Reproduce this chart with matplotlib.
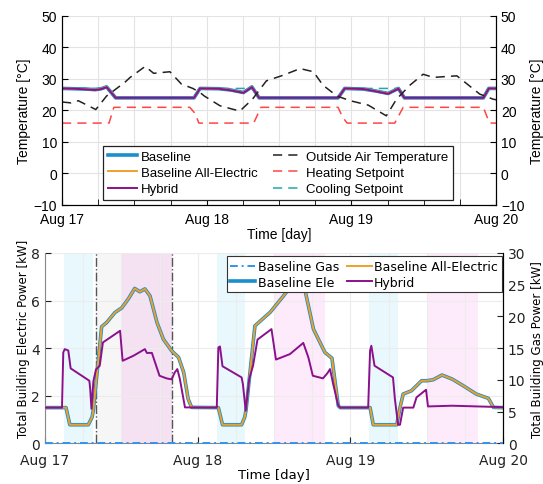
import matplotlib
matplotlib.use("Agg")
import matplotlib.pyplot as plt
import numpy as np

# ---- data (hours from Aug 17 00:00) ----
day_ticks = [0, 24, 48, 72]
day_labels = ['Aug 17', 'Aug 18', 'Aug 19', 'Aug 20']

zone_h = [0, 2, 4, 5.5, 6.5, 7.4, 8.9, 21.9, 22.9, 26, 28, 30.1, 31.5, 32.7,
          45.8, 46.9, 50, 52, 54.1, 55.8, 56.8, 69.9, 70.8, 72]
baseline_temp = [27, 26.9, 26.8, 26.6, 26.9, 27.5, 24, 24, 27, 26.9, 26.5, 25.7, 27.5, 24,
                 24, 27, 26.8, 26.2, 25.4, 27.0, 24, 24, 27, 27]
all_electric_temp = baseline_temp
hybrid_temp = [27, 26.9, 26.7, 26.5, 26.8, 27.4, 24, 24, 27, 26.9, 26.4, 25.6, 27.4, 24,
               24, 27, 26.8, 26.1, 25.3, 26.9, 24, 24, 27, 27]

oat_h = [0, 1.5, 2.7, 5.6, 7.4, 10.4, 11.3, 13.8, 15.2, 17.9, 19.8, 21.7, 22.9, 23.6, 26.2,
         29.5, 31.6, 33.9, 36.7, 39.5, 41.7, 43.3, 45.6, 47.8, 50.8, 53.8, 55.5, 57.7,
         59.9, 61.6, 65.5, 69.3, 71.5, 72]
oat_temp = [22.7, 22.4, 23.1, 20.3, 24.6, 28.9, 30.5, 34.0, 31.8, 32.3, 28.4, 27.0, 25.7, 24.6, 21.5,
            19.8, 23.6, 29.4, 31.2, 33.3, 32.3, 28.0, 24.6, 23.1, 21.7, 18.3, 23.6, 28.0,
            31.5, 30.5, 31.0, 25.2, 23.6, 23.4]

heat_h = [0, 7.8, 8.6, 21.2, 22.1, 22.7, 31.8, 33.0, 45.8, 46.5, 47.3, 55.2, 56.6, 69.9, 70.5, 71.0, 72]
heat_sp = [16, 16, 21, 21, 19, 16, 16, 21, 21, 18, 16, 16, 21, 21, 18, 16, 16]

cool_h = [0, 7.4, 8.8, 21.9, 22.8, 31.5, 32.8, 45.8, 46.8, 55.8, 56.7, 69.9, 70.7, 72]
cool_sp = [27, 27, 24, 24, 27, 27, 24, 24, 27, 27, 24, 24, 27, 27]

ae_h = [0, 3.3, 3.9, 6.8, 7.4, 7.6, 8.9, 9.7, 11.0, 12.05, 13.1, 14.1, 14.9, 15.7, 16.5, 17.6,
        18.6, 19.9, 21.0, 21.8, 22.5, 23.05,
        27.25, 27.9, 30.9, 31.4, 31.6, 33.0, 35.4, 37.5, 38.5, 39.3, 40.2, 40.9, 42.2, 44.0, 45.1,
        46.1, 46.4,
        51.1, 51.6, 55.3, 55.8, 56.3, 57.6, 59.2, 60.0, 61.0, 62.4, 64.0, 65.75, 67.8, 69.7, 70.5, 72]
all_electric_kw = [1.5, 1.5, 0.78, 0.78, 1.1, 1.4, 4.9, 5.08, 5.5, 5.69, 6.07, 6.51, 6.37, 6.49, 6.2, 5.08,
                   4.38, 3.89, 3.61, 2.98, 1.86, 1.51,
                   1.5, 0.78, 0.78, 1.1, 1.4, 4.94, 5.51, 6.2, 6.55, 6.85, 6.85, 6.4, 4.8, 3.82, 3.58,
                   1.58, 1.5,
                   1.5, 0.78, 0.78, 1.5, 2.07, 2.21, 2.63, 2.63, 2.67, 2.87, 2.7, 2.42, 2.07, 1.89, 1.51, 1.5]
baseline_ele_kw = all_electric_kw

hyb_h = [0, 2.67, 2.87, 3.1, 3.66, 4.03, 6.97, 7.1, 7.3, 7.6, 8.0, 8.6, 9.1, 11.8, 12.2, 13.9,
         15.7, 16.0, 16.8, 18.0, 19.1, 19.9, 20.4, 20.8, 21.2, 22.0,
         27.0, 27.25, 27.5, 27.9, 30.9, 31.1, 31.55, 32.1, 32.7, 33.4, 35.6, 36.3, 38.5, 40.6,
         41.4, 42.1, 43.7, 44.4, 44.8, 45.3, 46.1, 46.4,
         50.8, 51.1, 51.3, 51.8, 54.7, 55.0, 55.5, 55.8, 56.3, 57.9, 58.4, 59.7, 59.9, 60.2,
         64.0, 72]
hybrid_kw = [1.5, 1.5, 3.82, 3.96, 3.9, 3.15, 2.63, 2.3, 1.45, 2.6, 3.1, 3.26, 4.24, 4.73, 3.47, 3.68,
             3.96, 3.8, 3.8, 2.84, 2.73, 2.69, 2.98, 3.12, 2.7, 1.51,
             1.5, 4.03, 4.07, 3.24, 2.77, 2.5, 1.37, 2.7, 3.26, 4.36, 4.8, 3.52, 3.75, 4.22,
             3.61, 2.84, 2.73, 2.95, 3.12, 2.49, 1.58, 1.5,
             1.5, 3.9, 4.1, 3.26, 2.77, 1.86, 0.78, 0.78, 1.5, 1.5, 1.93, 2.21, 2.25, 1.55,
             1.58, 1.52]

gas_h = [0, 72]
baseline_gas_kw = [0, 0]

morning_windows = [(3, 7.5), (27, 31.5), (51, 55.5)]
afternoon_windows = [(12, 20), (36, 44), (60, 68)]
event_window = (8, 20)

# ---- styles ----
BLUE = '#1a8fcc'
ORANGE = '#f0a02a'
PURPLE = '#8b108b'
GAS_BLUE = '#3094f0'
GRID = '#e3e3e3'
DASH = (0, (6, 4))

fig = plt.figure(figsize=(5.43, 4.85), dpi=100)

# ---------------- top: temperatures ----------------
plt.rcParams['font.family'] = ['Liberation Sans', 'DejaVu Sans']
ax1 = fig.add_axes([0.1142, 0.5753, 0.7993, 0.3897])
ax1.plot(zone_h, baseline_temp, color=BLUE, lw=2.6, label='Baseline')
ax1.plot(zone_h, all_electric_temp, color=ORANGE, lw=1.4, label='Baseline All-Electric')
ax1.plot(zone_h, hybrid_temp, color=PURPLE, lw=1.4, label='Hybrid')
ax1.plot(oat_h, oat_temp, color='#222222', lw=1.1, ls=DASH, label='Outside Air Temperature')
ax1.plot(heat_h, heat_sp, color='#ff4545', lw=1.1, ls=DASH, label='Heating Setpoint')
ax1.plot(cool_h, cool_sp, color='#26a6ad', lw=1.1, ls=DASH, label='Cooling Setpoint', zorder=1.5)

ax1.set_xlim(0, 72)
ax1.set_ylim(-10, 50)
ax1.set_yticks(range(-10, 51, 10))
ax1.set_xticks(day_ticks)
ax1.set_xticklabels(day_labels)
ax1.set_xticks(np.arange(0, 73, 6), minor=True)
ax1.grid(True, which='both', color=GRID, lw=0.8)
ax1.set_axisbelow(True)
ax1.tick_params(which='both', direction='in', length=4, labelsize=10, top=False)
ax1.tick_params(axis='x', pad=5)
ax1.spines['top'].set_visible(False)
ax1.set_ylabel('Temperature [°C]', fontsize=10, labelpad=2)
ax1.set_xlabel('Time [day]', fontsize=10, labelpad=1)

ax1r = ax1.twinx()
ax1r.set_ylim(-10, 50)
ax1r.set_yticks(range(-10, 51, 10))
ax1r.tick_params(direction='in', length=4, labelsize=10)
ax1r.spines['top'].set_visible(False)
ax1r.set_ylabel('Temperature [°C]', fontsize=10, labelpad=4)

leg1 = ax1.legend(ncol=2, loc='upper left', bbox_to_anchor=(0.1897, 0.6969),
                  bbox_transform=fig.transFigure, borderaxespad=0, fontsize=9.5,
                  fancybox=False, framealpha=1, edgecolor='#222222', handlelength=2.2,
                  columnspacing=1.2, labelspacing=0.3, borderpad=0.35, handletextpad=0.3)
leg1.get_frame().set_linewidth(0.9)

# ---------------- bottom: power ----------------
ax2 = fig.add_axes([0.0829, 0.0839, 0.8435, 0.3924])
for a, b in morning_windows:
    ax2.axvspan(a, b, color='#e8f8fd', lw=0, zorder=0)
for a, b in afternoon_windows:
    ax2.axvspan(a, b, color='#fdeafa', lw=0, zorder=0)
ax2.axvspan(*event_window, color='k', alpha=0.035, lw=0, zorder=0.1)
for x in event_window:
    ax2.axvline(x, color='#555555', lw=1.0, ls='-.', zorder=1)

ax2.plot(ae_h, baseline_ele_kw, color=BLUE, lw=2.6, zorder=2)
ax2.plot(ae_h, all_electric_kw, color=ORANGE, lw=1.4, zorder=3)
ax2.plot(hyb_h, hybrid_kw, color=PURPLE, lw=1.4, zorder=4)

ax2.set_xlim(0, 72)
ax2.set_ylim(0, 8)
ax2.set_yticks(range(0, 9, 2))
ax2.set_xticks(day_ticks)
ax2.set_xticks(np.arange(0, 73, 6), minor=True)
ax2.grid(True, which='both', color='#ececec', lw=0.8)
ax2.set_axisbelow(True)
ax2.spines['top'].set_visible(False)
ax2.spines['left'].set_color('#888888')
ax2.spines['bottom'].set_color('#888888')
ax2.tick_params(which='both', direction='in', length=4, labelsize=10, top=False,
                labelfontfamily='DejaVu Sans', colors='#222222')
ax2.tick_params(axis='x', pad=7)
ax2.set_xticklabels(day_labels)
ax2.tick_params(axis='x', which='minor', length=0)
ax2.set_ylabel('Total Building Electric Power [kW]', fontsize=8.5, family='DejaVu Sans')
ax2.yaxis.set_label_coords(-0.032, 0.555)
ax2.set_xlabel('Time [day]', fontsize=9.5, family='DejaVu Sans', labelpad=1)

ax2r = ax2.twinx()
ax2r.plot(gas_h, baseline_gas_kw, color=GAS_BLUE, lw=1.4, ls=(0, (4, 2, 1, 2)), zorder=5, clip_on=False)
ax2r.set_ylim(0, 30)
ax2r.set_yticks(range(0, 31, 5))
ax2r.spines['top'].set_visible(False)
ax2r.spines['left'].set_visible(False)
ax2r.spines['bottom'].set_visible(False)
ax2r.tick_params(direction='in', length=4, labelsize=10, colors='#222222',
                 labelfontfamily='DejaVu Sans')
ax2r.set_ylabel('Total Building Gas Power [kW]', fontsize=8.5, family='DejaVu Sans', labelpad=4)

handles = [
    plt.Line2D([], [], color=GAS_BLUE, lw=1.4, ls=(0, (4, 2, 1, 2))),
    plt.Line2D([], [], color=BLUE, lw=2.6),
    plt.Line2D([], [], color=ORANGE, lw=1.4),
    plt.Line2D([], [], color=PURPLE, lw=1.4),
]
labels = ['Baseline Gas', 'Baseline Ele', 'Baseline All-Electric', 'Hybrid']
leg2 = ax2r.legend(handles, labels, ncol=2, loc='upper left', bbox_to_anchor=(0.4175, 0.4695),
                   bbox_transform=fig.transFigure, borderaxespad=0,
                   prop={'family': 'DejaVu Sans', 'size': 9}, fancybox=False, framealpha=1,
                   edgecolor='#333333', handlelength=2.0, columnspacing=0.6, labelspacing=0.2,
                   borderpad=0.3, handletextpad=0.2)
leg2.get_frame().set_linewidth(0.8)
leg2.set_zorder(10)

fig.savefig('out.png', dpi=100)
